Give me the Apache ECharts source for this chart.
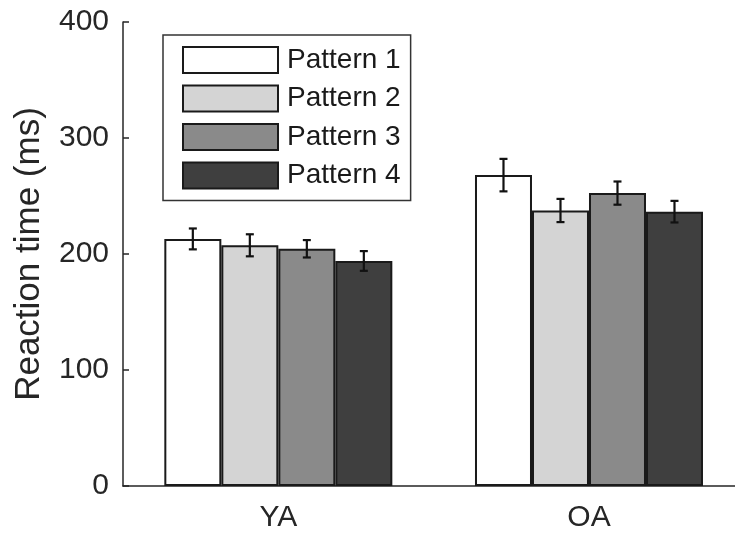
<!DOCTYPE html>
<html>
<head>
<meta charset="utf-8">
<script src="https://cdn.jsdelivr.net/npm/echarts@6/dist/echarts.min.js"></script>
<style>
html,body{margin:0;padding:0;background:#fff;}
#chart{width:735px;height:533px;}
</style>
</head>
<body>
<div id="chart"></div>
<script>
const categories = ['YA', 'OA'];
const seriesNames = ['Pattern 1', 'Pattern 2', 'Pattern 3', 'Pattern 4'];
const pattern1 = [213, 268];
const pattern2 = [207.5, 237.5];
const pattern3 = [204.5, 252.5];
const pattern4 = [194, 236.5];
const err1 = [9, 14];
const err2 = [9.5, 10];
const err3 = [7.5, 10];
const err4 = [8.5, 9.3];
const yTicks = [0, 100, 200, 300, 400];

const values = [pattern1, pattern2, pattern3, pattern4];
const errors = [err1, err2, err3, err4];
const colors = ['#ffffff', '#d4d4d4', '#8a8a8a', '#3f3f3f'];
const BAR_W = 57;
const FONT = '"Liberation Sans", Arial, sans-serif';

const chart = echarts.init(document.getElementById('chart'));

const barSeries = seriesNames.map((name, i) => ({
  name: name,
  type: 'bar',
  data: categories.map((c, k) => [k + 1, values[i][k]]),
  barWidth: BAR_W,
  barGap: '0%',
  itemStyle: { color: colors[i], borderColor: '#1a1a1a', borderWidth: 2 },
  emphasis: { disabled: true },
  z: 2
}));

const errSeries = seriesNames.map((name, i) => ({
  type: 'custom',
  name: name + ' err',
  data: categories.map((c, k) => [k + 1, values[i][k] - errors[i][k], values[i][k] + errors[i][k]]),
  encode: { x: 0, y: [1, 2] },
  z: 5,
  silent: true,
  renderItem: function (params, api) {
    const k = api.value(0);
    const lo = api.coord([k, api.value(1)]);
    const hi = api.coord([k, api.value(2)]);
    const cx = lo[0] + (i - 1.5) * BAR_W;
    const cap = 4;
    const style = { stroke: '#111', lineWidth: 2.2, fill: null };
    return {
      type: 'group',
      children: [
        { type: 'line', shape: { x1: cx, y1: lo[1], x2: cx, y2: hi[1] }, style: style },
        { type: 'line', shape: { x1: cx - cap, y1: lo[1], x2: cx + cap, y2: lo[1] }, style: style },
        { type: 'line', shape: { x1: cx - cap, y1: hi[1], x2: cx + cap, y2: hi[1] }, style: style }
      ]
    };
  }
}));

chart.setOption({
  animation: false,
  backgroundColor: '#ffffff',
  grid: { left: 123, right: 0, top: 22, bottom: 46, containLabel: false },
  legend: {
    data: seriesNames.map(n => ({ name: n, icon: 'rect' })),
    orient: 'vertical',
    left: 163,
    top: 35,
    itemWidth: 95,
    itemHeight: 26,
    itemGap: 10.5,
    padding: [11, 10, 11, 19],
    borderColor: '#333',
    borderWidth: 1.5,
    backgroundColor: '#fff',
    selectedMode: false,
    textStyle: { fontFamily: FONT, fontSize: 28, color: '#1a1a1a', padding: [0, 0, 0, 4] }
  },
  xAxis: {
    type: 'value',
    min: 0.5,
    max: 2.47,
    interval: 0.5,
    axisLine: { lineStyle: { color: '#262626', width: 1.5 } },
    axisTick: { show: false },
    axisLabel: {
      fontFamily: FONT, fontSize: 30, color: '#262626', margin: 17,
      showMinLabel: false, showMaxLabel: false,
      formatter: function (v) {
        const idx = Math.round(v) - 1;
        return (Math.abs(v - Math.round(v)) < 1e-6 && categories[idx]) ? categories[idx] : '';
      }
    },
    splitLine: { show: false }
  },
  yAxis: {
    type: 'value',
    min: yTicks[0],
    max: yTicks[yTicks.length - 1],
    interval: 100,
    name: 'Reaction time (ms)',
    nameLocation: 'middle',
    nameGap: 76,
    nameTextStyle: { fontFamily: FONT, fontSize: 35, color: '#262626' },
    axisLine: { show: true, lineStyle: { color: '#262626', width: 1.5 } },
    axisTick: { show: true, inside: true, length: 6, lineStyle: { color: '#262626', width: 1.5 } },
    axisLabel: { fontFamily: FONT, fontSize: 30, color: '#262626', margin: 14 },
    splitLine: { show: false }
  },
  series: barSeries.concat(errSeries)
});
</script>
</body>
</html>
